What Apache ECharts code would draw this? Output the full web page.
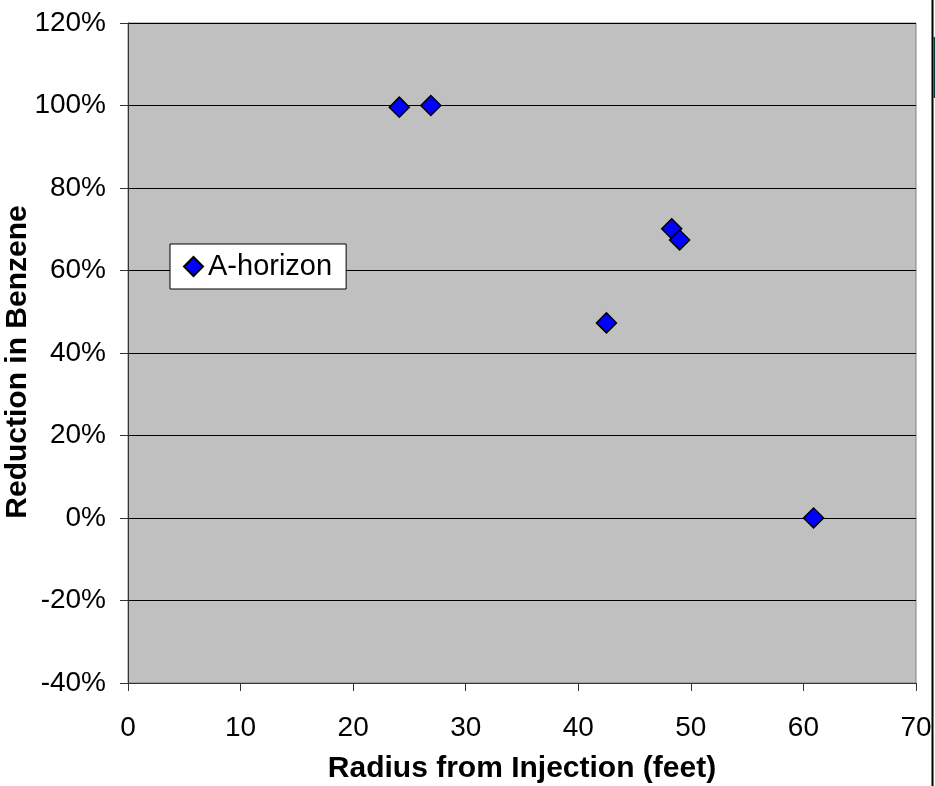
<!DOCTYPE html>
<html>
<head>
<meta charset="utf-8">
<script src="https://cdn.jsdelivr.net/npm/echarts@6/dist/echarts.min.js"></script>
<style>
  html, body { margin: 0; padding: 0; background: #fff; }
  #benzene-chart { width: 935px; height: 786px; }
</style>
</head>
<body>
<div id="benzene-chart"></div>
<script>
  // radius from injection point (feet) and benzene reduction (%)
  var seriesName = 'A-horizon';
  var radiusFeet = [24.1, 26.9, 42.5, 48.3, 49.0, 60.9];
  var reductionPct = [99.6, 100, 47.3, 70.1, 67.4, 0];
  var xTicks = [0, 10, 20, 30, 40, 50, 60, 70];
  var yTicks = [-40, -20, 0, 20, 40, 60, 80, 100, 120];

  var font = '"Liberation Sans", Arial, sans-serif';

  var points = radiusFeet.map(function (r, i) { return [r, reductionPct[i]]; });

  var chartDom = document.getElementById('benzene-chart');
  var myChart = echarts.init(chartDom, null, { renderer: 'canvas' });
  var option;
  option = {
    backgroundColor: '#fff',
    animation: false,
    textStyle: { fontFamily: font },
    grid: {
      left: 128,
      right: 19,
      top: 23,
      bottom: 103,
      outerBoundsMode: 'none',
      containLabel: false,
      show: true,
      backgroundColor: '#C0C0C0',
      borderColor: '#808080',
      borderWidth: 1
    },
    legend: {
      data: [seriesName],
      left: 170,
      top: 244,
      orient: 'vertical',
      backgroundColor: '#fff',
      borderColor: '#000',
      borderWidth: 1,
      padding: [8, 14, 8, 13],
      itemWidth: 19,
      itemHeight: 19,
      icon: 'diamond',
      textStyle: { fontSize: 29, color: '#000', fontFamily: font }
    },
    xAxis: {
      type: 'value',
      min: xTicks[0],
      max: xTicks[xTicks.length - 1],
      interval: 10,
      name: 'Radius from Injection (feet)',
      nameLocation: 'middle',
      nameGap: 71,
      nameMoveOverlap: false,
      nameTextStyle: { fontSize: 30, fontWeight: 'bold', color: '#000', fontFamily: font },
      axisLine: { onZero: false, lineStyle: { color: '#333', width: 1 } },
      axisTick: { show: true, length: 8, lineStyle: { color: '#333' } },
      axisLabel: { fontSize: 28, color: '#000', margin: 31, fontFamily: font },
      splitLine: { show: false }
    },
    yAxis: {
      type: 'value',
      min: yTicks[0],
      max: yTicks[yTicks.length - 1],
      interval: 20,
      name: 'Reduction in Benzene',
      nameLocation: 'middle',
      nameRotate: 90,
      nameGap: 95,
      nameMoveOverlap: false,
      nameTextStyle: { fontSize: 30, fontWeight: 'bold', color: '#000', fontFamily: font, padding: [0, 18, 0, 0] },
      axisLine: { show: true, lineStyle: { color: '#333', width: 1 } },
      axisTick: { show: true, length: 8, lineStyle: { color: '#333' } },
      axisLabel: { fontSize: 28, color: '#000', margin: 22, formatter: '{value}%', fontFamily: font },
      splitLine: { show: true, lineStyle: { color: '#000', width: 1 } }
    },
    graphic: [
      {
        type: 'rect',
        shape: { x: 931.5, y: 0, width: 2, height: 786 },
        style: { fill: '#000' }
      },
      {
        type: 'rect',
        shape: { x: 933.5, y: 37, width: 2, height: 61 },
        style: { fill: '#0b3b3b' }
      }
    ],
    series: [
      {
        name: seriesName,
        type: 'scatter',
        symbol: 'diamond',
        symbolSize: 20,
        itemStyle: {
          color: '#0000FF',
          borderColor: '#000',
          borderWidth: 1.5,
          opacity: 1
        },
        data: points
      }
    ]
  };
  option && myChart.setOption(option);
</script>
</body>
</html>
